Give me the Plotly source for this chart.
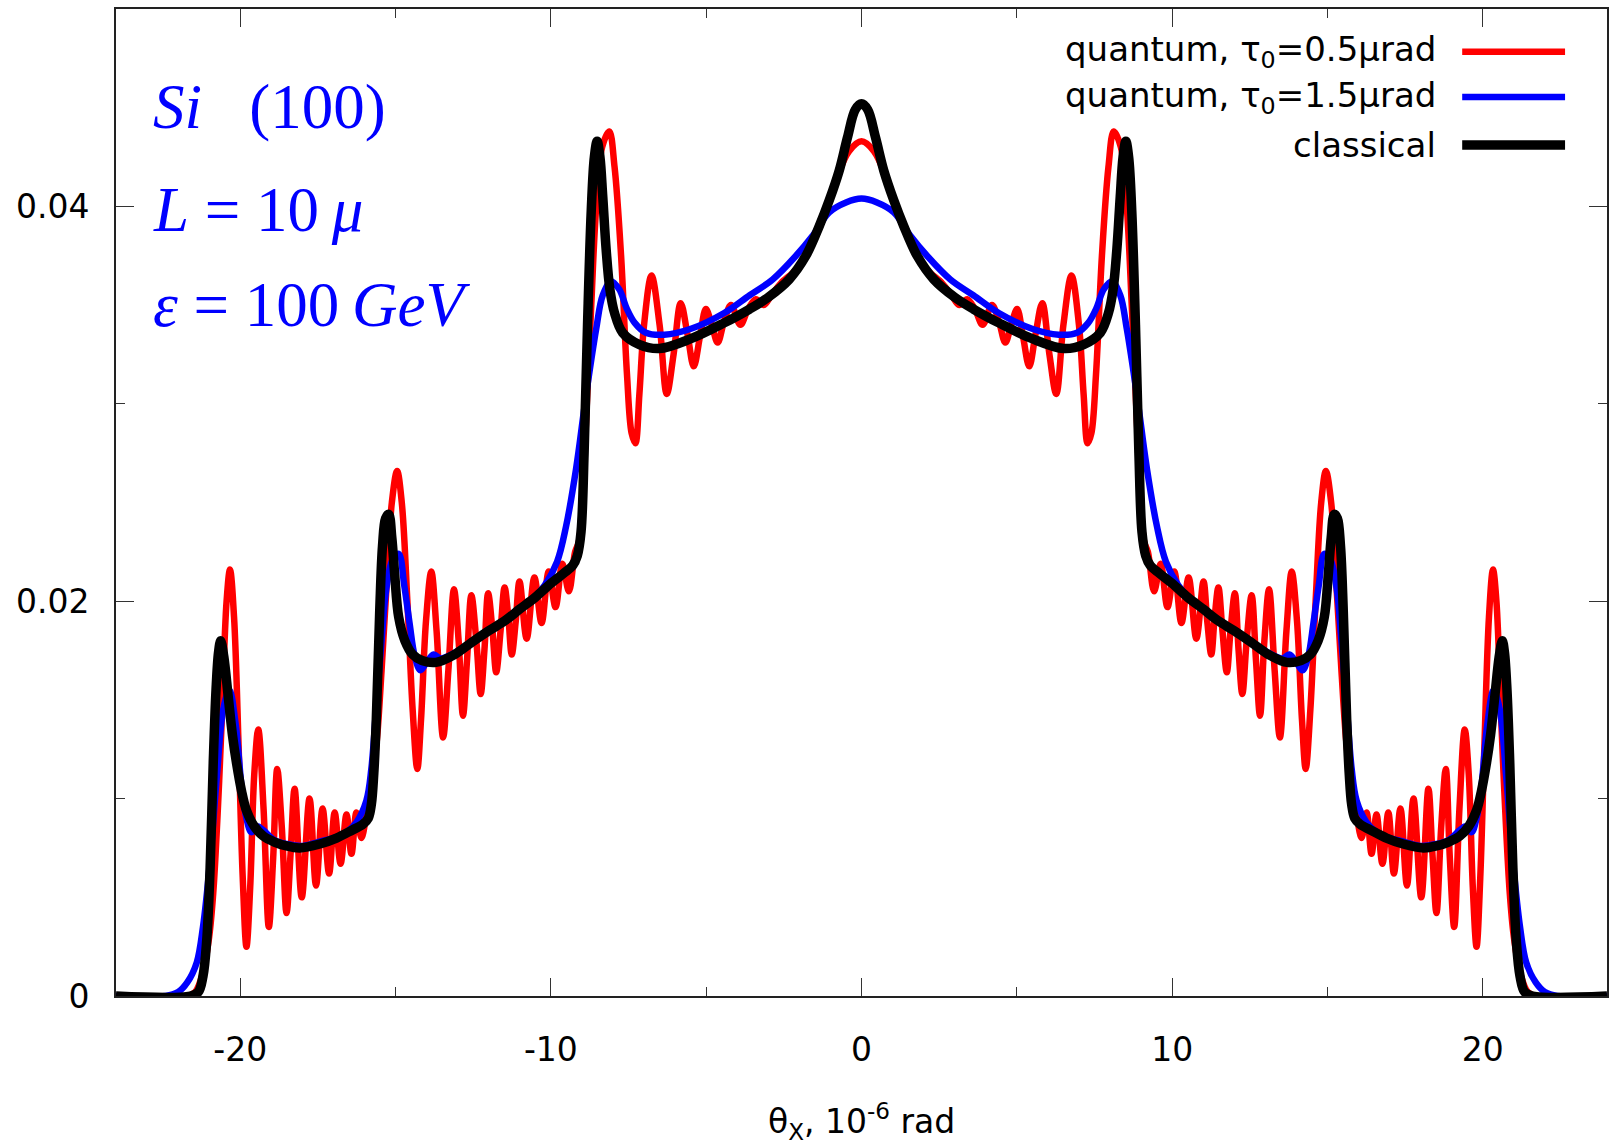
import plotly.graph_objects as go

# ---------------- data ----------------
red_x_left = [-24.0, -21.7, -21.45, -21.2, -21.0, -20.87, -20.72, -20.6, -20.44, -20.33,
              -20.2, -20.05, -19.92, -19.80, -19.68, -19.55, -19.42, -19.25, -19.08, -18.94,
              -18.81, -18.66, -18.51, -18.38, -18.25, -18.02, -17.77, -17.56, -17.35, -17.14,
              -16.96, -16.77, -16.58, -16.42, -16.26, -16.10, -15.92, -15.75, -15.60, -15.45,
              -15.30, -15.12, -14.95, -14.80, -14.62, -14.45, -14.30, -14.18, -14.02, -13.85,
              -13.68, -13.47, -13.30, -13.12, -12.97, -12.83, -12.70, -12.56, -12.40, -12.26,
              -12.14, -12.02, -11.88, -11.76, -11.62, -11.49, -11.37, -11.26, -11.13, -11.01,
              -10.78, -10.53, -10.30, -10.07, -9.85, -9.63, -9.42, -9.22, -9.10, -8.98,
              -8.87, -8.70, -8.54, -8.35, -8.12, -7.95, -7.74, -7.55, -7.40, -7.28,
              -7.15, -7.00, -6.76, -6.50, -6.27, -6.05, -5.82, -5.60, -5.40, -5.20,
              -5.01, -4.82, -4.63, -4.42, -4.20, -3.90, -3.65, -3.40, -3.15, -2.90,
              -2.60, -2.11, -1.69, -1.26, -0.83, -0.40]
red_y_left = [0, 0, 0.0002, 0.0012, 0.0030, 0.0052, 0.0095, 0.0138, 0.0200, 0.0216,
              0.0192, 0.0125, 0.0060, 0.0025, 0.0055, 0.0112, 0.0135, 0.0095, 0.0035, 0.0070,
              0.0115, 0.0085, 0.0042, 0.0072, 0.0105, 0.0050, 0.0100, 0.0056, 0.0095, 0.0062,
              0.0093, 0.0067, 0.0092, 0.0072, 0.0093, 0.0080, 0.0094, 0.0110, 0.0130, 0.0165,
              0.0205, 0.0250, 0.0266, 0.0250, 0.0200, 0.0145, 0.0115, 0.0140, 0.0190, 0.0215,
              0.0185, 0.0131, 0.0165, 0.0206, 0.0180, 0.0142, 0.0170, 0.0203, 0.0180, 0.0153,
              0.0175, 0.0204, 0.0185, 0.0164, 0.0185, 0.0207, 0.0192, 0.0173, 0.0190, 0.0210,
              0.0181, 0.0212, 0.0189, 0.0215, 0.0197, 0.0219, 0.0205, 0.0225, 0.0230, 0.0255,
              0.0290, 0.0350, 0.0400, 0.0430, 0.0438, 0.0420, 0.0375, 0.0315, 0.0285, 0.0280,
              0.0305, 0.0340, 0.0365, 0.0340, 0.0305, 0.0325, 0.0351, 0.0335, 0.0319, 0.0334,
              0.0348, 0.0340, 0.0331, 0.0342, 0.0350, 0.0340, 0.0348, 0.0353, 0.0350, 0.0355,
              0.0361, 0.0368, 0.0378, 0.0393, 0.0413, 0.0428]
red_x_right = [0.0, 0.40, 0.83, 1.26, 1.69, 2.11, 2.60, 2.90, 3.15, 3.40, 3.65, 3.90, 4.20,
               4.42, 4.63, 4.82, 5.01, 5.20, 5.40, 5.60, 5.82, 6.05, 6.27, 6.50, 6.76,
               7.00, 7.15, 7.28, 7.40, 7.55, 7.74, 7.95, 8.12, 8.35, 8.54, 8.70, 8.87,
               8.98, 9.10, 9.22, 9.42, 9.63, 9.85, 10.07, 10.30, 10.53, 10.78, 11.01, 11.13,
               11.26, 11.37, 11.49, 11.62, 11.76, 11.88, 12.02, 12.14, 12.26, 12.40, 12.56,
               12.70, 12.83, 12.97, 13.12, 13.30, 13.47, 13.68, 13.85, 14.02, 14.18, 14.30,
               14.45, 14.62, 14.80, 14.95, 15.12, 15.30, 15.45, 15.60, 15.75, 15.92, 16.10,
               16.26, 16.42, 16.58, 16.77, 16.96, 17.14, 17.35, 17.56, 17.77, 18.02, 18.25,
               18.38, 18.51, 18.66, 18.81, 18.94, 19.08, 19.25, 19.42, 19.55, 19.68, 19.80,
               19.92, 20.05, 20.2, 20.33, 20.44, 20.6, 20.72, 20.87, 21.0, 21.2, 21.45,
               21.7, 24.0]
red_y_right = [0.0433, 0.0428, 0.0413, 0.0393, 0.0378, 0.0368, 0.0361, 0.0355, 0.0350, 0.0353,
               0.0348, 0.0340, 0.0350, 0.0342, 0.0331, 0.0340, 0.0348, 0.0334, 0.0319, 0.0335,
               0.0351, 0.0325, 0.0305, 0.0340, 0.0365, 0.0340, 0.0305, 0.0280, 0.0285, 0.0315,
               0.0375, 0.0420, 0.0438, 0.0430, 0.0400, 0.0350, 0.0290, 0.0255, 0.0230, 0.0225,
               0.0205, 0.0219, 0.0197, 0.0215, 0.0189, 0.0212, 0.0181, 0.0210, 0.0190, 0.0173,
               0.0192, 0.0207, 0.0185, 0.0164, 0.0185, 0.0204, 0.0175, 0.0153, 0.0180, 0.0203,
               0.0170, 0.0142, 0.0180, 0.0206, 0.0165, 0.0131, 0.0185, 0.0215, 0.0190, 0.0140,
               0.0115, 0.0145, 0.0200, 0.0250, 0.0266, 0.0250, 0.0205, 0.0165, 0.0130, 0.0110,
               0.0094, 0.0080, 0.0093, 0.0072, 0.0092, 0.0067, 0.0093, 0.0062, 0.0095, 0.0056,
               0.0100, 0.0050, 0.0105, 0.0072, 0.0042, 0.0085, 0.0115, 0.0070, 0.0035, 0.0095,
               0.0135, 0.0112, 0.0055, 0.0025, 0.0060, 0.0125, 0.0192, 0.0216, 0.0200, 0.0138,
               0.0095, 0.0052, 0.0030, 0.0012, 0.0002, 0, 0]

blue_x_left = [-24.0, -22.4, -22.0, -21.7, -21.4, -21.2, -20.98, -20.75, -20.55, -20.35,
               -20.15, -19.95, -19.80, -19.64, -19.45, -19.26, -18.90, -18.51, -18.00, -17.50,
               -17.00, -16.58, -16.26, -15.94, -15.78, -15.62, -15.45, -15.30, -15.10, -14.90,
               -14.72, -14.55, -14.38, -14.20, -14.00, -13.77, -13.55, -13.20, -12.56, -12.00,
               -11.49, -11.00, -10.59, -10.20, -9.80, -9.51, -9.19, -8.87, -8.54, -8.33,
               -8.06, -7.80, -7.55, -7.30, -6.94, -6.35, -5.49, -4.42, -3.60, -2.86,
               -2.11, -1.58, -1.04, -0.50]
blue_y_left = [0, 0, 0.0002, 0.0007, 0.0017, 0.0035, 0.0067, 0.0112, 0.0145, 0.0155,
               0.0138, 0.0105, 0.0090, 0.0083, 0.0086, 0.0084, 0.0079, 0.0077, 0.0076, 0.0078,
               0.0080, 0.0083, 0.0088, 0.0099, 0.0115, 0.0147, 0.0180, 0.0206, 0.0221, 0.0224,
               0.0208, 0.0189, 0.0172, 0.0165, 0.0169, 0.0173, 0.0171, 0.0173, 0.0179, 0.0185,
               0.0190, 0.0196, 0.0201, 0.0208, 0.0220, 0.0238, 0.0267, 0.0304, 0.0338, 0.0355,
               0.0362, 0.0358, 0.0348, 0.0341, 0.0336, 0.0335, 0.0338, 0.0346, 0.0355, 0.0363,
               0.0375, 0.0385, 0.0397, 0.0402]
blue_x_right = [0.0, 0.50, 1.04, 1.58, 2.11, 2.86, 3.60, 4.42, 5.49, 6.35, 6.94,
                7.30, 7.55, 7.80, 8.06, 8.33, 8.54, 8.87, 9.19, 9.51, 9.80,
                10.20, 10.59, 11.00, 11.49, 12.00, 12.56, 13.20, 13.55, 13.77, 14.00,
                14.20, 14.38, 14.55, 14.72, 14.90, 15.10, 15.30, 15.45, 15.62, 15.78,
                15.94, 16.26, 16.58, 17.00, 17.50, 18.00, 18.51, 18.90, 19.26, 19.45,
                19.64, 19.80, 19.95, 20.15, 20.35, 20.55, 20.75, 20.98, 21.2, 21.4,
                21.7, 22.0, 22.4, 24.0]
blue_y_right = [0.0404, 0.0402, 0.0397, 0.0385, 0.0375, 0.0363, 0.0355, 0.0346, 0.0338, 0.0335, 0.0336,
                0.0341, 0.0348, 0.0358, 0.0362, 0.0355, 0.0338, 0.0304, 0.0267, 0.0238, 0.0220,
                0.0208, 0.0201, 0.0196, 0.0190, 0.0185, 0.0179, 0.0173, 0.0171, 0.0173, 0.0169,
                0.0165, 0.0172, 0.0189, 0.0208, 0.0224, 0.0221, 0.0206, 0.0180, 0.0147, 0.0115,
                0.0099, 0.0088, 0.0083, 0.0080, 0.0078, 0.0076, 0.0077, 0.0079, 0.0084, 0.0086,
                0.0083, 0.0090, 0.0105, 0.0138, 0.0155, 0.0145, 0.0112, 0.0067, 0.0035, 0.0017,
                0.0007, 0.0002, 0, 0]

black_x_left = [-24.0, -21.6, -21.35, -21.2, -21.08, -20.97, -20.87, -20.78, -20.70, -20.63,
                -20.53, -20.39, -20.25, -20.12, -19.96, -19.80, -19.55, -19.26, -18.90, -18.51,
                -18.09, -17.44, -16.90, -16.40, -16.05, -15.88, -15.78, -15.70, -15.62, -15.51,
                -15.42, -15.32, -15.22, -15.12, -15.03, -14.90, -14.70, -14.45, -14.15, -13.70,
                -13.10, -12.56, -12.00, -11.49, -11.00, -10.50, -10.00, -9.60, -9.30, -9.15,
                -9.03, -8.93, -8.82, -8.70, -8.60, -8.51, -8.42, -8.33, -8.22, -8.10,
                -7.95, -7.69, -7.15, -6.51, -5.49, -4.42, -3.60, -3.00, -2.33, -1.79,
                -1.36, -1.04, -0.72, -0.45, -0.20]
black_y_left = [0, 0, 0.0002, 0.0010, 0.0028, 0.0065, 0.0118, 0.0155, 0.0174, 0.0180,
                0.0172, 0.0152, 0.0132, 0.0118, 0.0104, 0.0094, 0.0086, 0.0081, 0.0078, 0.0076,
                0.0075, 0.0077, 0.0080, 0.0084, 0.0087, 0.0090, 0.0097, 0.0113, 0.0140, 0.0195,
                0.0228, 0.0242, 0.0244, 0.0232, 0.0214, 0.0192, 0.0180, 0.0173, 0.0170, 0.0169,
                0.0173, 0.0179, 0.0185, 0.0190, 0.0196, 0.0202, 0.0209, 0.0214, 0.0218, 0.0223,
                0.0235, 0.0275, 0.0340, 0.0398, 0.0425, 0.0433, 0.0425, 0.0405, 0.0378, 0.0358,
                0.0346, 0.0336, 0.0330, 0.0328, 0.0333, 0.0341, 0.0348, 0.0354, 0.0363, 0.0375,
                0.0390, 0.0403, 0.0418, 0.0435, 0.0449]
black_x_right = [0.0, 0.20, 0.45, 0.72, 1.04, 1.36, 1.79, 2.33, 3.00, 3.60, 4.42,
                 5.49, 6.51, 7.15, 7.69, 7.95, 8.10, 8.22, 8.33, 8.42, 8.51,
                 8.60, 8.70, 8.82, 8.93, 9.03, 9.15, 9.30, 9.60, 10.00, 10.50,
                 11.00, 11.49, 12.00, 12.56, 13.10, 13.70, 14.15, 14.45, 14.70, 14.90,
                 15.03, 15.12, 15.22, 15.32, 15.42, 15.51, 15.62, 15.70, 15.78, 15.88,
                 16.05, 16.40, 16.90, 17.44, 18.09, 18.51, 18.90, 19.26, 19.55, 19.80,
                 19.96, 20.12, 20.25, 20.39, 20.53, 20.63, 20.70, 20.78, 20.87, 20.97,
                 21.08, 21.2, 21.35, 21.6, 24.0]
black_y_right = [0.0452, 0.0449, 0.0435, 0.0418, 0.0403, 0.0390, 0.0375, 0.0363, 0.0354, 0.0348, 0.0341,
                 0.0333, 0.0328, 0.0330, 0.0336, 0.0346, 0.0358, 0.0378, 0.0405, 0.0425, 0.0433,
                 0.0425, 0.0398, 0.0340, 0.0275, 0.0235, 0.0223, 0.0218, 0.0214, 0.0209, 0.0202,
                 0.0196, 0.0190, 0.0185, 0.0179, 0.0173, 0.0169, 0.0170, 0.0173, 0.0180, 0.0192,
                 0.0214, 0.0232, 0.0244, 0.0242, 0.0228, 0.0195, 0.0140, 0.0113, 0.0097, 0.0090,
                 0.0087, 0.0084, 0.0080, 0.0077, 0.0075, 0.0076, 0.0078, 0.0081, 0.0086, 0.0094,
                 0.0104, 0.0118, 0.0132, 0.0152, 0.0172, 0.0180, 0.0174, 0.0155, 0.0118, 0.0065,
                 0.0028, 0.0010, 0.0002, 0, 0]

series_names = ["quantum, τ<sub>0</sub>=0.5μrad", "quantum, τ<sub>0</sub>=1.5μrad", "classical"]
x_tick_vals = [-20, -10, 0, 10, 20]
x_tick_text = ["-20", "-10", "0", "10", "20"]
y_tick_vals = [0, 0.02, 0.04]
y_tick_text = ["0", "0.02", "0.04"]

# ---------------- figure ----------------
data = [(red_x_left + red_x_right, red_y_left + red_y_right),
        (blue_x_left + blue_x_right, blue_y_left + blue_y_right),
        (black_x_left + black_x_right, black_y_left + black_y_right)]
for xs, ys in data:
    assert len(xs) == len(ys), (len(xs), len(ys))

fig = go.Figure()
styles = [("#ff0000", 6.5), ("#0000ff", 6.5), ("#000000", 9.5)]
for (xs, ys), (col, w), name in zip(data, styles, series_names):
    fig.add_trace(go.Scatter(x=xs, y=ys, mode="lines", name=name, showlegend=False,
                             line=dict(color=col, width=w, shape="spline", smoothing=1.0)))

W, H = 1612, 1146
L, R, T, B = 116, 3, 9, 150
pw, ph = W - L - R, H - T - B


def px(xpix):
    return (xpix - L) / pw


def py(ypix):
    return (H - B - ypix) / ph


tick_font = dict(family="DejaVu Sans", size=33, color="black")

fig.update_layout(
    width=W, height=H,
    margin=dict(l=L, r=R, t=T, b=B),
    paper_bgcolor="white", plot_bgcolor="white",
    xaxis=dict(range=[-24, 24], tickmode="array", tickvals=x_tick_vals, ticktext=x_tick_text,
               ticks="inside", ticklen=18, tickwidth=1.2, tickcolor="#333",
               showline=True, linecolor="#222", linewidth=1.6, mirror="ticks",
               showgrid=False, zeroline=False, tickfont=tick_font, ticklabelstandoff=24,
               minor=dict(dtick=5, tick0=0, ticks="inside", ticklen=9, tickwidth=1.2, tickcolor="#333")),
    yaxis=dict(range=[0, 0.05], tickmode="array", tickvals=y_tick_vals, ticktext=y_tick_text,
               ticks="inside", ticklen=18, tickwidth=1.2, tickcolor="#333",
               showline=True, linecolor="#222", linewidth=1.6, mirror="ticks",
               showgrid=False, zeroline=False, tickfont=tick_font, ticklabelstandoff=18,
               minor=dict(dtick=0.01, tick0=0, ticks="inside", ticklen=9, tickwidth=1.2, tickcolor="#333")),
)

# legend (gnuplot style: text right-aligned, sample line on the right)
legend_rows = [51.7, 97.0, 145.0]
for name, (col, w), yp in zip(series_names, styles, legend_rows):
    fig.add_annotation(xref="paper", yref="paper", x=px(1440), y=py(yp), xanchor="right",
                       yanchor="middle", text=name, showarrow=False,
                       font=dict(family="DejaVu Sans", size=34, color="black"))
    fig.add_shape(type="line", xref="paper", yref="paper", x0=px(1464), x1=px(1567),
                  y0=py(yp), y1=py(yp), line=dict(color=col, width=w))

# in-plot labels
serif = dict(family="Liberation Serif", size=63, color="#0000ff")
labels = [("<i>Si</i>\u00a0\u00a0\u00a0(100)", 107),
          ("<i>L</i>\u00a0=\u00a010\u2009<i>μ</i>", 210),
          ("<i>ε</i>\u00a0=\u00a0100\u2009<i>GeV</i>", 305)]
for txt, yp in labels:
    fig.add_annotation(xref="paper", yref="paper", x=px(151), y=py(yp), xanchor="left",
                       yanchor="middle", text=txt, showarrow=False, font=serif)

# axis title
fig.add_annotation(xref="paper", yref="paper", x=0.5, y=py(1121), xanchor="center",
                   yanchor="middle", text="θ<sub>X</sub>, 10<sup>-6</sup> rad", showarrow=False,
                   font=dict(family="DejaVu Sans", size=33, color="black"))

fig.write_html("out.html")
